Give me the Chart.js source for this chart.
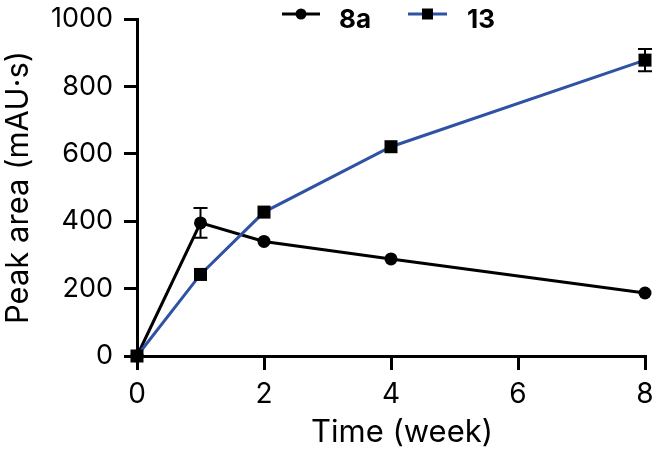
<!DOCTYPE html>
<html lang="en">
<head>
  <meta charset="UTF-8">
  <title>Peak area vs time</title>
  <script src="https://cdn.jsdelivr.net/npm/chart.js"></script>
  <style>
    body {
      margin: 0;
      background: white;
    }
    canvas {
      display: block;
    }
  </style>
</head>
<body>
  <canvas id="lineChart" width="656" height="455"></canvas>

  <script>
    // data
    const weeks = [0, 1, 2, 4, 8];
    const area8a = [0, 395, 340, 288, 187];
    const err8a = [0, 44, 0, 0, 0];
    const area13 = [0, 242, 427, 621, 878];
    const err13 = [0, 0, 0, 0, 33];
    const yTicks = [0, 200, 400, 600, 800, 1000];
    const xTicks = [0, 2, 4, 6, 8];

    const fonte = 'Inter';
    const azul = '#2f52a4';

    const pontos = (vals) => weeks.map((w, i) => ({ x: w, y: vals[i] }));

    // barras de erro
    const errorBars = {
      id: 'errorBars',
      afterDatasetsDraw(chart) {
        const ctx = chart.ctx;
        const xs = chart.scales.x, ys = chart.scales.y;
        [[area8a, err8a], [area13, err13]].forEach(([vals, errs]) => {
          errs.forEach((e, i) => {
            if (!e) return;
            const x = xs.getPixelForValue(weeks[i]);
            const top = ys.getPixelForValue(vals[i] + e);
            const bot = ys.getPixelForValue(vals[i] - e);
            ctx.save();
            ctx.strokeStyle = '#000';
            ctx.lineWidth = 2;
            ctx.beginPath();
            ctx.moveTo(x, top); ctx.lineTo(x, bot);
            ctx.moveTo(x - 7, top); ctx.lineTo(x + 7, top);
            ctx.moveTo(x - 7, bot); ctx.lineTo(x + 7, bot);
            ctx.stroke();
            ctx.restore();
          });
        });
      }
    };

    // legenda no topo + titulo do eixo x (um pouco deslocado para a direita, como no original)
    const legendaTopo = {
      id: 'legendaTopo',
      afterDraw(chart) {
        const ctx = chart.ctx;
        ctx.save();
        const y = 14;
        const itens = [
          { x0: 282, x1: 320, cor: '#000', forma: 'circle', texto: '8a', tx: 339 },
          { x0: 408, x1: 447, cor: azul, forma: 'rect', texto: '13', tx: 467 }
        ];
        itens.forEach(it => {
          ctx.strokeStyle = it.cor;
          ctx.lineWidth = 3;
          ctx.beginPath();
          ctx.moveTo(it.x0, y); ctx.lineTo(it.x1, y);
          ctx.stroke();
          const cx = (it.x0 + it.x1) / 2;
          ctx.fillStyle = '#000';
          ctx.beginPath();
          if (it.forma === 'circle') ctx.arc(cx, y, 5.5, 0, Math.PI * 2);
          else ctx.rect(cx - 5.5, y - 5.5, 11, 11);
          ctx.fill();
          ctx.font = 'bold 26px ' + fonte;
          ctx.textBaseline = 'middle';
          ctx.textAlign = 'left';
          ctx.fillText(it.texto, it.tx, y + 6);
        });

        ctx.font = '31px ' + fonte;
        ctx.fillStyle = '#000';
        ctx.textAlign = 'center';
        ctx.textBaseline = 'alphabetic';
        ctx.fillText('Time (week)', 402, 442);
        ctx.restore();
      }
    };

    const ctx = document.getElementById('lineChart').getContext('2d');
    new Chart(ctx, {
      type: 'line',
      data: {
        datasets: [{
          label: '8a',
          data: pontos(area8a),
          borderColor: '#000',
          backgroundColor: '#000',
          borderWidth: 3,
          pointStyle: 'circle',
          pointRadius: 6.5,
          pointBorderWidth: 0,
          pointBackgroundColor: '#000',
          tension: 0,
          clip: false,
          order: 1
        }, {
          label: '13',
          data: pontos(area13),
          borderColor: azul,
          backgroundColor: '#000',
          borderWidth: 3,
          pointStyle: 'rect',
          pointRadius: 9.2,
          pointBorderWidth: 0,
          pointBackgroundColor: '#000',
          tension: 0,
          clip: false,
          order: 0
        }]
      },
      options: {
        responsive: false,
        animation: false,
        layout: { padding: { top: 19, right: 11, left: 0, bottom: 0 } },
        plugins: {
          legend: { display: false },
          tooltip: { enabled: false }
        },
        scales: {
          x: {
            type: 'linear',
            min: 0,
            max: 8,
            afterBuildTicks: (s) => { s.ticks = xTicks.map(v => ({ value: v })); },
            afterFit: (s) => { s.height = 99; s.paddingLeft = 0; s.paddingRight = 0; },
            grid: { drawOnChartArea: false, tickLength: 14, color: '#000', lineWidth: 3 },
            border: { color: '#000', width: 3 },
            ticks: { color: '#000', padding: 8, font: { family: fonte, size: 28 }, callback: (v) => String(v) },
            title: { display: false }
          },
          y: {
            min: 0,
            max: 1000,
            afterBuildTicks: (s) => { s.ticks = yTicks.map(v => ({ value: v })); },
            afterFit: (s) => { s.width = 137; s.paddingTop = 0; s.paddingBottom = 0; },
            grid: { drawOnChartArea: false, tickLength: 13, color: '#000', lineWidth: 3 },
            border: { color: '#000', width: 3 },
            ticks: { color: '#000', padding: 11, font: { family: fonte, size: 27 }, callback: (v) => String(v) },
            title: {
              display: true,
              text: 'Peak area (mAU·s)',
              color: '#000',
              font: { family: fonte, size: 31 },
              padding: { top: 0, bottom: 0 }
            }
          }
        }
      },
      plugins: [errorBars, legendaTopo]
    });
  </script>
</body>
</html>
